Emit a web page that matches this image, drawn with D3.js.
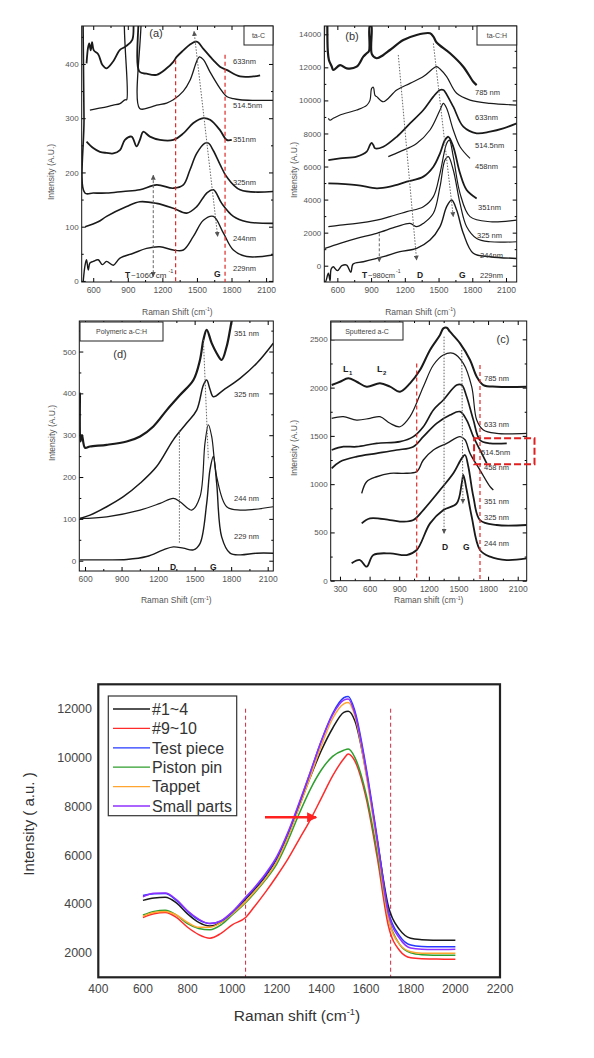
<!DOCTYPE html>
<html><head><meta charset="utf-8">
<script src="https://cdn.jsdelivr.net/npm/d3@7"></script>
<style>body{margin:0;background:#fff}svg{display:block}text{font-family:"Liberation Sans",Arial,sans-serif}</style>
</head><body><script>
// ---------------- DATA ----------------
// Panel (a) ta-C
const aXTicks=[600,900,1200,1500,1800,2100], aXMinor=[750,1050,1350,1650,1950];
const aYTicks=[0,100,200,300,400], aYMinor=[50,150,250,350,450];
const a633=[[542,401],[555,430],[565,438],[578,425],[590,440],[605,425],[643,418],[680,398],[716,392],[774,405],[832,426],[880,432],[940,445],[955,520],[985,520],[1000,386],[1063,382],[1150,380],[1237,392],[1295,404],[1324,413],[1382,425],[1440,436],[1498,441],[1556,428],[1642,407],[1700,395],[1758,389],[1874,377],[1990,377],[2048,379]];
const a514=[[571,315],[643,318],[716,321],[774,324],[832,327],[875,334],[890,334],[897,520],[993,520],[1003,318],[1092,320],[1150,324],[1237,328],[1295,334],[1382,350],[1440,370],[1498,405],[1521,413],[1556,408],[1614,385],[1700,355],[1758,340],[1816,336],[1874,334],[1990,333],[2160,333]];
const a351=[[542,257],[600,245],[658,238],[716,236],[774,235],[832,241],[875,260],[933,266],[976,248],[1005,260],[1034,275],[1092,266],[1179,260],[1295,260],[1382,272],[1469,291],[1556,300],[1614,297],[1700,278],[1758,260],[1802,260]];
const a325=[[512,470],[520,300],[528,162],[600,162],[716,162],[860,165],[1005,168],[1150,177],[1295,171],[1382,177],[1440,205],[1498,235],[1570,254],[1600,254],[1643,240],[1700,215],[1758,192],[1874,168],[2164,165]];
const a244=[[530,100],[643,109],[716,119],[890,137],[1005,146],[1150,143],[1295,134],[1411,125],[1498,137],[1585,162],[1643,168],[1715,143],[1816,119],[1932,109],[2164,106]];
const a229=[[513,-1],[530,30],[542,39],[557,20],[571,33],[600,36],[643,39],[680,30],[716,36],[774,29],[832,42],[948,51],[1063,60],[1179,63],[1295,57],[1382,57],[1469,82],[1556,112],[1643,119],[1730,88],[1816,57],[1932,45],[2164,48]];
const aRed=[1315,1744];

// Panel (b) ta-C:H
const bXTicks=[600,900,1200,1500,1800,2100], bXMinor=[750,1050,1350,1650,1950];
const bYTicks=[0,2000,4000,6000,8000,10000,12000,14000], bYMinor=[1000,3000,5000,7000,9000,11000,13000];
const b785=[[511,14500],[515,13000],[525,12450],[550,12050],[564,11840],[624,12140],[683,11940],[772,12040],[831,12650],[861,12850],[882,13000],[888,14500],[902,14500],[907,12800],[950,12550],[1009,12750],[1068,13050],[1187,13650],[1305,13960],[1424,14060],[1454,13860],[1483,13500],[1602,12850],[1720,12040],[1809,11130],[1839,10930]];
const b633=[[520,8915],[535,8800],[564,8915],[624,9120],[772,9420],[861,9700],[890,10000],[905,10730],[920,10800],[935,10300],[950,10230],[1009,9920],[1128,10630],[1246,11030],[1365,11440],[1454,11940],[1483,12040],[1513,11900],[1572,11440],[1661,10430],[1780,10020],[1958,9820],[2195,9720]];
const b514=[[520,6390],[624,6490],[772,6600],[861,6900],[890,7300],[905,7440],[920,7300],[935,7100],[1009,7200],[1128,7800],[1246,8610],[1365,9420],[1454,10230],[1513,10630],[1543,10630],[1557,10530],[1631,9620],[1720,8410],[1839,8010],[1958,8110],[2076,8310],[2195,8610]];
const b458=[[1053,6600],[1157,6900],[1305,7400],[1424,8210],[1513,9420],[1543,9820],[1572,9520],[1631,8210],[1691,7200],[1780,6490]];
const b351=[[520,4980],[772,4880],[950,4680],[1068,4780],[1217,5080],[1365,5390],[1454,5990],[1513,6800],[1557,7600],[1587,7800],[1631,7200],[1691,5590],[1750,4580],[1839,4070]];
const b325=[[520,2360],[624,2460],[772,2560],[950,2760],[1068,2970],[1217,3270],[1365,3570],[1454,4180],[1513,5590],[1572,7400],[1596,7600],[1631,6600],[1691,4380],[1780,2970],[1958,2660],[2195,2760]];
const b244=[[490,1050],[624,1350],[772,1650],[950,1960],[1128,2360],[1246,2560],[1305,2360],[1365,2560],[1454,3170],[1513,4780],[1557,6390],[1587,6600],[1631,5790],[1691,3770],[1750,2360],[1839,1650],[1958,1450],[2195,1450]];
const b229=[[486,14500],[487,-986],[495,-970],[520,-460],[535,-900],[545,-200],[564,-60],[600,-300],[640,0],[683,40],[720,-400],[740,100],[831,240],[1009,545],[1157,850],[1305,1050],[1424,1550],[1513,2360],[1572,3570],[1617,3975],[1661,3370],[1720,1960],[1809,750],[1958,545],[2195,440]];

// Panel (d) polymeric a-C:H
const dXTicks=[600,900,1200,1500,1800,2100], dXMinor=[750,1050,1350,1650,1950];
const dYTicks=[0,100,200,300,400,500], dYMinor=[50,150,250,350,450,550];
const d351=[[555,300],[558,400],[562,285],[575,300],[600,270],[641,273],[778,277],[942,285],[1052,297],[1161,321],[1271,360],[1380,396],[1490,432],[1544,480],[1572,528],[1599,552],[1640,520],[1681,496],[1722,480],[1763,512],[1791,552],[1804,573],[1830,600]];
const d325=[[559,101],[641,109],[778,129],[915,153],[1052,185],[1188,225],[1325,289],[1435,329],[1517,360],[1572,420],[1599,432],[1626,410],[1654,392],[1736,408],[1873,436],[2010,472],[2146,520]];
const d244=[[559,101],[778,105],[1052,121],[1216,137],[1325,149],[1380,141],[1476,121],[1544,153],[1585,281],[1613,325],[1640,297],[1681,201],[1763,129],[1873,121],[2146,129]];
const d229=[[559,2],[778,2],[942,3],[1106,10],[1243,26],[1325,33],[1407,30],[1490,26],[1544,41],[1599,137],[1626,217],[1654,249],[1681,185],[1722,57],[1791,18],[1873,14],[2010,18],[2146,18]];

// Panel (c) sputtered a-C
const cXTicks=[300,600,900,1200,1500,1800,2100], cXMinor=[450,750,1050,1350,1650,1950];
const cYTicks=[0,500,1000,1500,2000,2500], cYMinor=[250,750,1250,1750,2250];
const c785=[[216,2027],[300,2061],[384,2096],[469,2061],[570,2010],[705,2044],[807,2010],[908,1958],[1009,2044],[1110,2182],[1212,2390],[1313,2545],[1347,2614],[1381,2620],[1414,2579],[1516,2459],[1617,2286],[1685,2113],[1752,2027],[1887,2010],[2191,2010]];
const c633=[[216,1682],[334,1699],[469,1664],[604,1682],[705,1699],[807,1630],[908,1595],[1009,1699],[1144,2010],[1246,2234],[1347,2338],[1448,2355],[1549,2251],[1634,2010],[1685,1664],[1752,1561],[1887,1526],[2191,1526]];
const c514=[[216,1354],[334,1388],[469,1388],[671,1423],[908,1440],[1043,1492],[1144,1595],[1246,1768],[1347,1872],[1482,2027],[1533,2027],[1583,1906],[1651,1664],[1718,1457],[1820,1423],[1989,1423]];
const c458=[[216,1164],[300,1233],[469,1285],[671,1319],[874,1354],[1043,1388],[1144,1492],[1279,1630],[1414,1716],[1516,1751],[1583,1664],[1651,1492],[1718,1354],[1786,1215]];
const c351=[[520,905],[570,1026],[671,1077],[807,1112],[942,1112],[1077,1129],[1144,1250],[1246,1354],[1381,1423],[1516,1492],[1566,1460],[1617,1319],[1718,1146],[1820,974],[1853,939]];
const c325=[[520,594],[604,646],[807,628],[942,611],[1043,628],[1144,732],[1313,939],[1448,1112],[1533,1267],[1566,1302],[1600,1181],[1651,870],[1718,628],[1887,577],[2191,577]];
const c244=[[418,180],[503,214],[570,145],[638,266],[807,283],[975,266],[1077,318],[1212,594],[1347,732],[1482,801],[1533,1008],[1549,1095],[1583,939],[1634,663],[1718,318],[1820,249],[1989,214],[2191,231]];
const cRed=[1077,1718];

// Bottom chart
const ramanX=[600,650,700,750,800,850,900,950,1000,1060,1100,1150,1200,1250,1300,1350,1400,1450,1500,1520,1550,1600,1650,1700,1750,1800,1850,1900,1950,2000];
const s1_4   =[4150,4250,4280,4050,3600,3250,3100,3250,3600,4200,4600,5150,5850,6800,8000,9200,10300,11200,11850,11900,11500,9400,6600,3900,2950,2600,2540,2520,2520,2520];
const s9_10  =[3450,3600,3650,3450,3050,2750,2600,2800,3150,3450,3900,4500,5150,5850,6650,7450,8350,9250,9950,10150,9850,8350,5900,3100,2100,1800,1760,1750,1740,1740];
const sTest  =[4350,4420,4430,4150,3700,3350,3200,3300,3650,4250,4650,5200,5900,6900,8100,9400,10700,11800,12450,12500,11900,9600,6700,3700,2700,2320,2260,2250,2250,2250];
const sPiston=[3550,3700,3750,3550,3200,3000,2950,3150,3550,4050,4450,5000,5650,6600,7700,8700,9500,10050,10300,10350,10000,8500,6100,3400,2350,2000,1920,1900,1900,1900];
const sTappet=[3500,3650,3700,3550,3250,3050,3050,3250,3600,4100,4500,5050,5750,6750,7950,9200,10500,11600,12200,12250,11700,9300,6400,3400,2350,2050,1990,1980,1980,1980];
const sSmall =[4300,4440,4450,4180,3720,3380,3200,3320,3680,4280,4680,5250,5950,6950,8150,9400,10700,11750,12350,12400,11800,9500,6600,3600,2600,2200,2150,2140,2140,2150];
const legendNames=["#1~4","#9~10","Test piece","Piston pin","Tappet","Small parts"];
const seriesColors=["#1a1a1a","#ff2a2a","#2438ff","#2e9e2e","#ffa530","#9030ff"];
const bXTicksBig=[400,600,800,1000,1200,1400,1600,1800,2000,2200];
const bYTicksBig=[2000,4000,6000,8000,10000,12000];
const bigRed=[1060,1710];

// ---------------- DRAW ----------------
const W=594,H=1058;
const svg=d3.select("body").append("svg").attr("width",W).attr("height",H);
const defs=svg.append("defs");
function marker(id,color,size){
  defs.append("marker").attr("id",id).attr("viewBox","0 0 10 10").attr("refX",9).attr("refY",5)
    .attr("markerWidth",size).attr("markerHeight",size).attr("orient","auto-start-reverse")
    .append("path").attr("d","M0,0L10,5L0,10z").attr("fill",color);
}
marker("gArrow","#555",5);
marker("rArrow","#ff2020",4);

function addTitle(g,xp,yp,pre,sup,post,size,rot,fill){
  const t=g.append("text").attr("text-anchor","middle").attr("font-size",size).attr("fill",fill||"#444");
  if(rot) t.attr("transform",`translate(${xp},${yp}) rotate(-90)`); else t.attr("x",xp).attr("y",yp);
  t.append("tspan").text(pre);
  if(sup){t.append("tspan").attr("dy",-size*0.4).attr("font-size",size*0.6).text(sup);
  t.append("tspan").attr("dy",size*0.4).text(post);}
  return t;
}

function panel(p){
  const x=d3.scaleLinear().domain(p.xd).range([p.l,p.r]);
  const y=d3.scaleLinear().domain(p.yd).range([p.b,p.t]);
  const g=svg.append("g");
  const cid="clip-"+p.id;
  defs.append("clipPath").attr("id",cid).append("rect").attr("x",p.l).attr("y",p.t).attr("width",p.r-p.l).attr("height",p.b-p.t);
  const specs=[[d3.axisBottom,`translate(0,${p.b})`,x,true,true],[d3.axisTop,`translate(0,${p.t})`,x,true,false],
               [d3.axisLeft,`translate(${p.l},0)`,y,false,true],[d3.axisRight,`translate(${p.r},0)`,y,false,false]];
  specs.forEach(([fn,tr,sc,isX,lab])=>{
    const mi=g.append("g").attr("transform",tr).call(fn(sc).tickValues(isX?p.xMinor:p.yMinor).tickSize(-2).tickSizeOuter(0).tickFormat(""));
    mi.select(".domain").remove();
    const ax=g.append("g").attr("transform",tr).call(fn(sc).tickValues(isX?p.xTicks:p.yTicks).tickSize(-4).tickSizeOuter(0).tickPadding(isX?5:3).tickFormat(lab?d3.format("d"):""));
    ax.select(".domain").remove();
    ax.selectAll("text").attr("font-size",isX?8.5:8).attr("fill","#555").attr("font-family","'Liberation Sans',Arial,sans-serif");
  });
  g.append("rect").attr("x",p.l).attr("y",p.t).attr("width",p.r-p.l).attr("height",p.b-p.t).attr("fill","none").attr("stroke","#111").attr("stroke-width",1);
  const line=d3.line().x(d=>x(d[0])).y(d=>y(d[1])).curve(d3.curveCatmullRom.alpha(0.5));
  const lg=g.append("g").attr("clip-path",`url(#${cid})`);
  p.series.forEach(s=>{
    lg.append("path").attr("d",line(s.data)).attr("fill","none").attr("stroke","#1a1a1a").attr("stroke-width",s.w).attr("stroke-linejoin","round");
  });
  (p.red||[]).forEach((v,i)=>{
    g.append("line").attr("x1",x(v)).attr("x2",x(v)).attr("y1",y(p.redTop[i])).attr("y2",p.b)
      .attr("stroke","#e02a2a").attr("stroke-width",1.2).attr("stroke-dasharray","4,3");
  });
  (p.dots||[]).forEach(d=>{
    const l=g.append("line").attr("x1",x(d[0])).attr("y1",y(d[1])).attr("x2",x(d[2])).attr("y2",y(d[3]))
      .attr("stroke","#666").attr("stroke-width",1).attr("stroke-dasharray",d[5]||"1.5,1.5");
    if(d[4]>=1) l.attr("marker-end","url(#gArrow)");
    if(d[4]===2) l.attr("marker-start","url(#gArrow)");
  });
  p.labels.forEach(t=>{
    const tx=g.append("text").attr("x",t[0]).attr("y",t[1]).attr("font-size",t[3]||7.5).attr("fill",t[4]||"#333").text(t[2]);
    if(t[5]) tx.attr("font-weight","bold");
  });
  g.append("rect").attr("x",p.box[0]).attr("y",p.box[1]).attr("width",p.box[2]).attr("height",p.box[3]).attr("fill","#fff").attr("stroke","#222").attr("stroke-width",1);
  g.append("text").attr("x",p.box[0]+p.box[2]/2).attr("y",p.box[1]+p.box[3]/2+2.5).attr("text-anchor","middle").attr("font-size",7).attr("fill","#444").text(p.name);
  g.append("text").attr("x",p.tag[0]).attr("y",p.tag[1]).attr("text-anchor","middle").attr("font-size",11).attr("font-family","'Liberation Serif',serif").attr("fill","#333").text(p.tag[2]);
  addTitle(g,(p.l+p.r)/2,p.xt,p.xTitle,"-1",")",8.5,false,"#555");
  addTitle(g,p.yt[0],p.yt[1],"Intensity (A.U.)",null,null,8.5,true,"#555");
  return {x,y,g};
}

// (a)
panel({id:"a",l:81.7,r:273,t:26,b:282,xd:[500,2160],yd:[-2,470],xTicks:aXTicks,xMinor:aXMinor,yTicks:aYTicks,yMinor:aYMinor,
  series:[{data:a633,w:1.8},{data:a514,w:1.3},{data:a351,w:1.8},{data:a325,w:1.6},{data:a244,w:1.6},{data:a229,w:1.4}],
  red:aRed,redTop:[407,417],
  dots:[[1475,460,1680,82,2],[1121,195,1121,8,2,"3,2"]],
  labels:[[233,64,"633nm"],[233,108,"514.5nm"],[233,142,"351nm"],[233,185,"325nm"],[233,241,"244nm"],[233,271,"229nm"],
          [125,278,"T",8.5,"#222",true],[131,278,"~1060 cm",8],[168.5,273,"-1",5.5]],
  box:[244,26,29,19],name:"ta-C",tag:[156,37,"(a)"],xTitle:"Raman Shift (cm",xt:314.5,yt:[54,172]});
// G label of (a) placed separately to keep clear of the superscript
svg.append("text").attr("x",214).attr("y",277).attr("font-size",8.5).attr("font-weight","bold").attr("fill","#222").text("G");
// (b)
panel({id:"b",l:324.3,r:516.7,t:26,b:282,xd:[484,2195],yd:[-986,14502],xTicks:bXTicks,xMinor:bXMinor,yTicks:bYTicks,yMinor:bYMinor,
  series:[{data:b785,w:2.2},{data:b633,w:1.2},{data:b514,w:1.7},{data:b458,w:1.2},{data:b351,w:1.8},{data:b325,w:1.2},{data:b244,w:1.2},{data:b229,w:1.4}],
  dots:[[1142,12750,1305,340,1],[1454,13450,1631,2970,1],[973,1960,973,240,1,"3,2"]],
  labels:[[475,95,"785 nm"],[475,120,"633nm"],[475,148,"514.5nm"],[475,169,"458nm"],[478,210,"351nm"],[477,238,"325 nm"],[480,258,"244nm"],[480,278,"229nm"],
          [362,278,"T",8.5,"#222",true],[368,278,"~980cm",7.5],[396,273,"-1",5],[417,278,"D",8.5,"#222",true],[459,278,"G",8.5,"#222",true]],
  box:[477,26,39.7,19],name:"ta-C:H",tag:[352,40,"(b)"],xTitle:"Raman Shift (cm",xt:314.5,yt:[297,170]});
// (d)
panel({id:"d",l:79.3,r:273.3,t:321,b:571,xd:[553,2146],yd:[-24.6,573],xTicks:dXTicks,xMinor:dXMinor,yTicks:dYTicks,yMinor:dYMinor,
  series:[{data:d351,w:2.2},{data:d325,w:1.5},{data:d244,w:1.2},{data:d229,w:1.4}],
  dots:[[1375,312,1375,41,0],[1572,528,1613,241,0]],
  labels:[[234,336,"351 nm"],[234,397,"325 nm"],[234,501,"244 nm"],[234,539,"229 nm"],[170,570,"D",8.5,"#222",true],[210,570,"G",8.5,"#222",true]],
  box:[80,322,83,19],name:"Polymeric a-C:H",tag:[120,358,"(d)"],xTitle:"Raman Shift (cm",xt:603,yt:[55,433]});
// (c)
const pc=panel({id:"c",l:330.7,r:526.7,t:321,b:580.7,xd:[206,2191],yd:[0,2690],xTicks:cXTicks,xMinor:cXMinor,yTicks:cYTicks,yMinor:cYMinor,
  series:[{data:c785,w:2.0},{data:c633,w:1.2},{data:c514,w:1.7},{data:c458,w:1.7},{data:c351,w:1.4},{data:c325,w:1.8},{data:c244,w:1.8}],
  red:cRed,redTop:[2251,2234],
  dots:[[1354,2528,1354,490,1],[1533,2390,1545,801,1]],
  labels:[[484,381,"785 nm"],[484,427,"633 nm"],[481,455,"514.5nm"],[484,470,"458 nm"],[484,504,"351 nm"],[484,520,"325 nm"],[484,546,"244 nm"],
          [442,550,"D",8.5,"#222",true],[463,550,"G",8.5,"#222",true],[343,372,"L",9,"#222",true],[349,375,"1",6,"#222",true],[377,372,"L",9,"#222",true],[383,375,"2",6,"#222",true]],
  box:[331,322,72,18],name:"Sputtered a-C",tag:[503,343,"(c)"],xTitle:"Raman shift (cm",xt:603,yt:[297,448]});
pc.g.append("rect").attr("x",pc.x(1658)).attr("y",pc.y(1475)).attr("width",pc.x(2270)-pc.x(1658)).attr("height",pc.y(1205)-pc.y(1475))
  .attr("fill","none").attr("stroke","#e02020").attr("stroke-width",2).attr("stroke-dasharray","7,3");

// ---------------- Bottom chart ----------------
{
  const l=98.3,r=500,t=684.3,b=977.3;
  const x=d3.scaleLinear().domain([400,2200]).range([l,r]);
  const y=d3.scaleLinear().domain([1000,13000]).range([b,t]);
  const g=svg.append("g");
  g.selectAll(".yt").data(bYTicksBig).join("text").attr("x",92).attr("y",d=>y(d)).attr("dy","0.35em").attr("text-anchor","end")
    .attr("font-size",12.5).attr("fill","#444").text(d=>d);
  g.selectAll(".xt").data(bXTicksBig).join("text").attr("x",d=>x(d)).attr("y",992.5).attr("text-anchor","middle")
    .attr("font-size",12).attr("fill","#444").text(d=>d);
  bigRed.forEach(v=>g.append("line").attr("x1",x(v)).attr("x2",x(v)).attr("y1",y(12000)).attr("y2",b)
    .attr("stroke","#d02a40").attr("stroke-width",1).attr("stroke-dasharray","4,3"));
  const series=[s1_4,s9_10,sTest,sPiston,sTappet,sSmall];
  const order=[0,1,3,4,2,5];
  const line=d3.line().x((d,i)=>x(ramanX[i])).y(d=>y(d)).curve(d3.curveMonotoneX);
  order.forEach(k=>{
    g.append("path").attr("d",line(series[k])).attr("fill","none").attr("stroke",seriesColors[k]).attr("stroke-width",1.5);
  });
  g.append("line").attr("x1",x(1147)).attr("x2",x(1376)).attr("y1",y(7550)).attr("y2",y(7550))
    .attr("stroke","#ff2020").attr("stroke-width",2.5).attr("marker-end","url(#rArrow)");
  g.append("rect").attr("x",l).attr("y",t).attr("width",r-l).attr("height",b-t).attr("fill","none").attr("stroke","#222").attr("stroke-width",2.2);
  g.append("rect").attr("x",108.3).attr("y",696).attr("width",128.4).attr("height",119.7).attr("fill","#fff").attr("stroke","#333").attr("stroke-width",1.2);
  legendNames.forEach((n,i)=>{
    const yy=709+i*19.4;
    g.append("line").attr("x1",113).attr("x2",150).attr("y1",yy).attr("y2",yy).attr("stroke",seriesColors[i]).attr("stroke-width",1.3);
    g.append("text").attr("x",152).attr("y",yy).attr("dy","0.36em").attr("font-size",16).attr("fill","#333").text(n);
  });
  addTitle(g,297,1021,"Raman shift (cm","-1",")",15.5,false,"#333");
  addTitle(g,34,824,"Intensity ( a.u. )",null,null,15,true,"#333");
}
</script></body></html>
